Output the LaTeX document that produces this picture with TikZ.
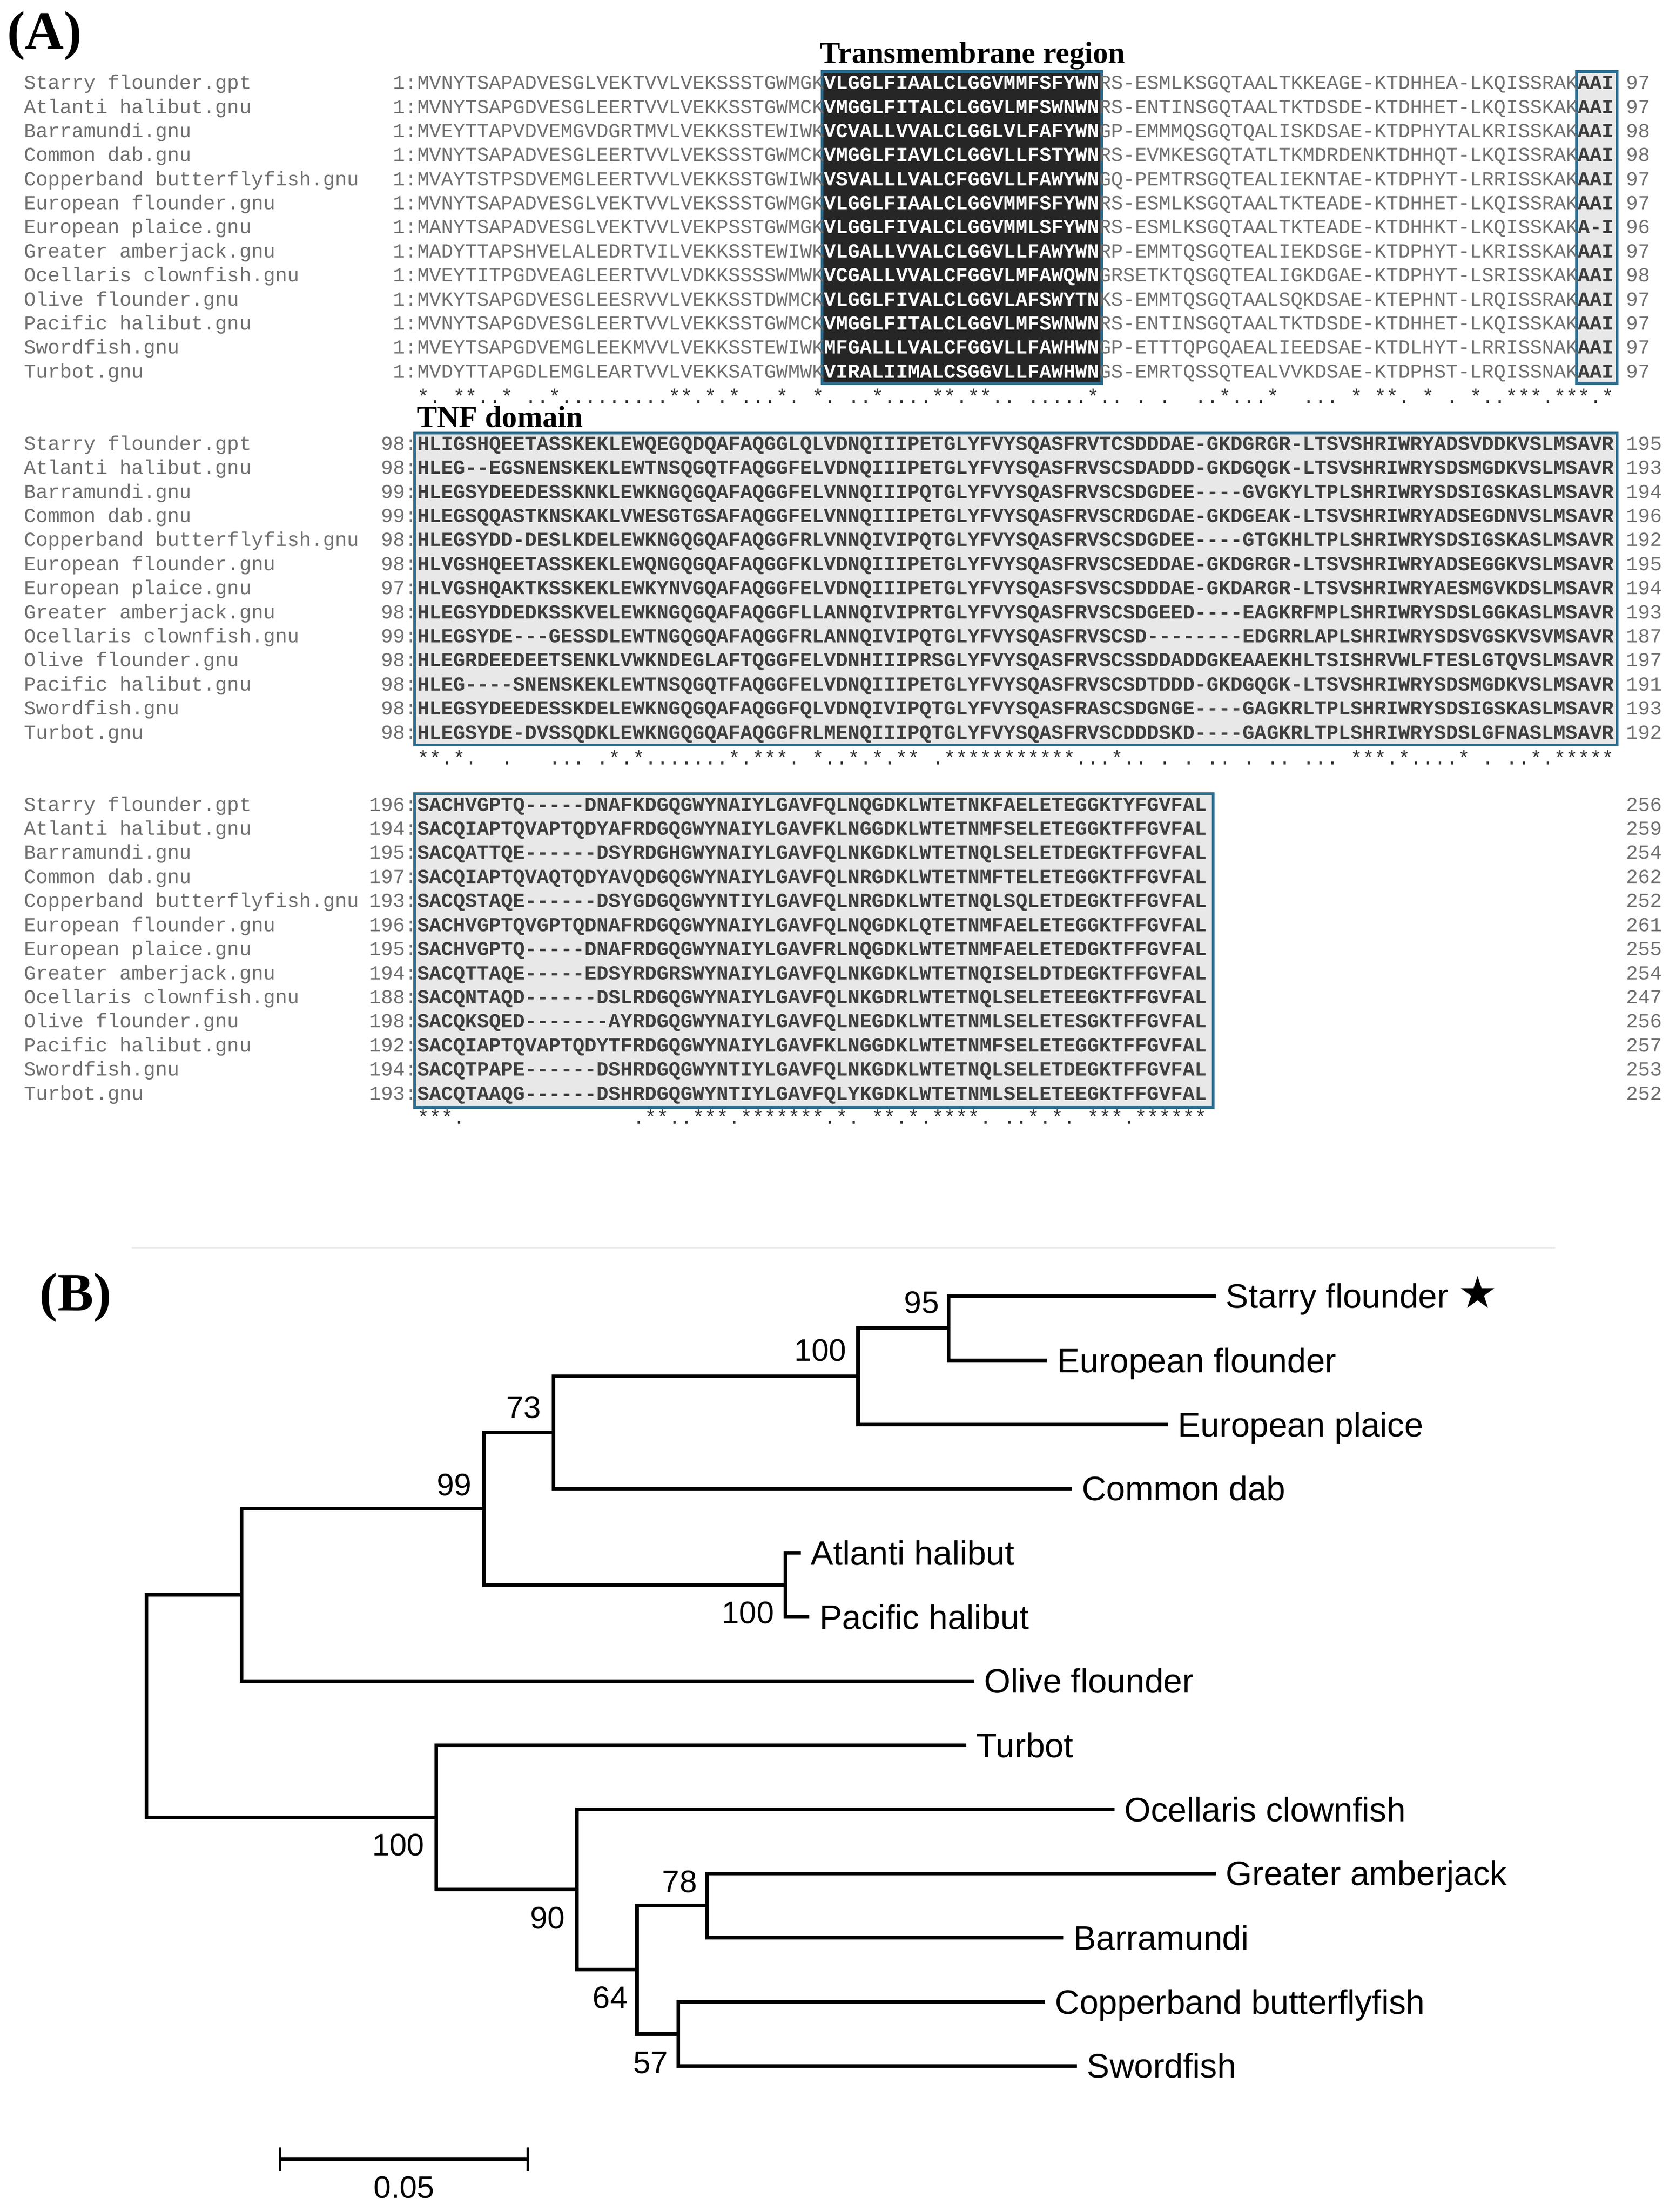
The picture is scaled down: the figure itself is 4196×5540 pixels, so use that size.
\documentclass[tikz,border=0pt]{standalone}
\usepackage{fontspec}
\setmainfont{Liberation Serif}
\newfontfamily\seqfont{Liberation Mono}[Ligatures=TeXOff]
\newfontfamily\treefont{Liberation Sans}
\newfontfamily\symfont{DejaVu Sans}
\usetikzlibrary{calc}
\definecolor{boxblue}{HTML}{2C6E91}
\definecolor{seqgray}{HTML}{707070}
\definecolor{boxfill}{HTML}{E8E8E8}
\definecolor{tmfill}{HTML}{262626}
\definecolor{boxtext}{HTML}{3E3E3E}
\newcommand\sgray[1]{{\color{seqgray}#1}}
\newcommand\swhite[1]{{\bfseries\color{white}#1}}
\newcommand\sdark[1]{{\bfseries\color{boxtext}#1}}
\newcommand\arow[6]{%
  \node[nm] (n#1) at (60,#2) {#3};
  \node[ln] (l#1) at (1045,#2) {#4};
  \node[sq] (s#1) at (1045,#2) {#5};
  \node[rn] (r#1) at (4072,#2) {#6};
}
\tikzset{
  mono/.style={inner sep=0pt, font=\seqfont\fontsize{49.93}{60}\selectfont},
  nm/.style={mono, anchor=base west, text=seqgray},
  ln/.style={mono, anchor=base east, text=seqgray},
  rn/.style={mono, anchor=base west, text=seqgray},
  sq/.style={mono, anchor=base west},
  cons/.style={mono, anchor=base west, text=black!80},
  domlab/.style={inner sep=0pt, anchor=base west, font=\bfseries\fontsize{76}{80}\selectfont},
  panel/.style={inner sep=0pt, anchor=base west, font=\bfseries\fontsize{135}{140}\selectfont},
  tmbox/.style={fill=tmfill, draw=boxblue, line width=7pt},
  lgbox/.style={fill=boxfill, draw=boxblue, line width=7pt},
  br/.style={line width=9pt, draw=black},
  lf/.style={inner sep=0pt, anchor=base west, xshift=25pt, yshift=-30pt, font=\treefont\fontsize{85}{90}\selectfont},
  bs/.style={inner sep=0pt, font=\treefont\fontsize{78}{80}\selectfont},
}
\begin{document}
\begin{tikzpicture}[x=1pt,y=-1pt]
\fill[white] (0,0) rectangle (4196,5540);
\useasboundingbox (0,0) rectangle (4196,5540);

% ---------------- panel A ----------------
\node[panel] (pA) at (18,122) {(A)};

% block 1
\draw[tmbox] (2059,179) rectangle (2759,960);
\draw[lgbox] (3948,179) rectangle (4050,960);
\node[domlab] (tmlab) at (2054,158) {Transmembrane region};

\arow{a1}{223.5}{Starry flounder.gpt}{1:}{\sgray{MVNYTSAPADVESGLVEKTVVLVEKSSSTGWMGK}\swhite{VLGGLFIAALCLGGVMMFSFYWN}\sgray{RS-ESMLKSGQTAALTKKEAGE-KTDHHEA-LKQISSRAK}\sdark{AAI}}{97}
\arow{a2}{283.75}{Atlanti halibut.gnu}{1:}{\sgray{MVNYTSAPGDVESGLEERTVVLVEKKSSTGWMCK}\swhite{VMGGLFITALCLGGVLMFSWNWN}\sgray{RS-ENTINSGQTAALTKTDSDE-KTDHHET-LKQISSKAK}\sdark{AAI}}{97}
\arow{a3}{344}{Barramundi.gnu}{1:}{\sgray{MVEYTTAPVDVEMGVDGRTMVLVEKKSSTEWIWK}\swhite{VCVALLVVALCLGGLVLFAFYWN}\sgray{GP-EMMMQSGQTQALISKDSAE-KTDPHYTALKRISSKAK}\sdark{AAI}}{98}
\arow{a4}{404.25}{Common dab.gnu}{1:}{\sgray{MVNYTSAPADVESGLEERTVVLVEKSSSTGWMCK}\swhite{VMGGLFIAVLCLGGVLLFSTYWN}\sgray{RS-EVMKESGQTATLTKMDRDENKTDHHQT-LKQISSRAK}\sdark{AAI}}{98}
\arow{a5}{464.5}{Copperband butterflyfish.gnu}{1:}{\sgray{MVAYTSTPSDVEMGLEERTVVLVEKKSSTGWIWK}\swhite{VSVALLLVALCFGGVLLFAWYWN}\sgray{GQ-PEMTRSGQTEALIEKNTAE-KTDPHYT-LRRISSKAK}\sdark{AAI}}{97}
\arow{a6}{524.75}{European flounder.gnu}{1:}{\sgray{MVNYTSAPADVESGLVEKTVVLVEKSSSTGWMGK}\swhite{VLGGLFIAALCLGGVMMFSFYWN}\sgray{RS-ESMLKSGQTAALTKTEADE-KTDHHET-LKQISSRAK}\sdark{AAI}}{97}
\arow{a7}{585}{European plaice.gnu}{1:}{\sgray{MANYTSAPADVESGLVEKTVVLVEKPSSTGWMGK}\swhite{VLGGLFIVALCLGGVMMLSFYWN}\sgray{RS-ESMLKSGQTAALTKTEADE-KTDHHKT-LKQISSKAK}\sdark{A-I}}{96}
\arow{a8}{645.25}{Greater amberjack.gnu}{1:}{\sgray{MADYTTAPSHVELALEDRTVILVEKKSSTEWIWK}\swhite{VLGALLVVALCLGGVLLFAWYWN}\sgray{RP-EMMTQSGQTEALIEKDSGE-KTDPHYT-LKRISSKAK}\sdark{AAI}}{97}
\arow{a9}{705.5}{Ocellaris clownfish.gnu}{1:}{\sgray{MVEYTITPGDVEAGLEERTVVLVDKKSSSSWMWK}\swhite{VCGALLVVALCFGGVLMFAWQWN}\sgray{GRSETKTQSGQTEALIGKDGAE-KTDPHYT-LSRISSKAK}\sdark{AAI}}{98}
\arow{a10}{765.75}{Olive flounder.gnu}{1:}{\sgray{MVKYTSAPGDVESGLEESRVVLVEKKSSTDWMCK}\swhite{VLGGLFIVALCLGGVLAFSWYTN}\sgray{KS-EMMTQSGQTAALSQKDSAE-KTEPHNT-LRQISSRAK}\sdark{AAI}}{97}
\arow{a11}{826}{Pacific halibut.gnu}{1:}{\sgray{MVNYTSAPGDVESGLEERTVVLVEKKSSTGWMCK}\swhite{VMGGLFITALCLGGVLMFSWNWN}\sgray{RS-ENTINSGQTAALTKTDSDE-KTDHHET-LKQISSKAK}\sdark{AAI}}{97}
\arow{a12}{886.25}{Swordfish.gnu}{1:}{\sgray{MVEYTSAPGDVEMGLEEKMVVLVEKKSSTEWIWK}\swhite{MFGALLLVALCFGGVLLFAWHWN}\sgray{GP-ETTTQPGQAEALIEEDSAE-KTDLHYT-LRRISSNAK}\sdark{AAI}}{97}
\arow{a13}{946.5}{Turbot.gnu}{1:}{\sgray{MVDYTTAPGDLEMGLEARTVVLVEKKSATGWMWK}\swhite{VIRALIIMALCSGGVLLFAWHWN}\sgray{GS-EMRTQSSQTEALVVKDSAE-KTDPHST-LRQISSNAK}\sdark{AAI}}{97}
\foreach \c in {1,4,5,8,12,22,23,25,27,31,34,39,44,45,47,48,57,68,72,79,81,82,85,89,92,93,94,96,97,98,100}
  \node[cons] (csA\c) at ({1045+(\c-1)*29.96},1010) {*};
\foreach \c in {2,6,7,10,11,13,14,15,16,17,18,19,20,21,24,26,28,29,30,32,35,37,38,40,41,42,43,46,49,50,52,53,54,55,56,58,59,61,63,66,67,69,70,71,75,76,77,83,87,90,91,95,99}
  \node[cons] (cdA\c) at ({1045+(\c-1)*29.96},1010) {.};

% block 2
\draw[lgbox] (1038,1085) rectangle (4050,1866);
\node[domlab] (tnflab) at (1044,1070) {TNF domain};
\arow{b1}{1127}{Starry flounder.gpt}{98:}{\sdark{HLIGSHQEETASSKEKLEWQEGQDQAFAQGGLQLVDNQIIIPETGLYFVYSQASFRVTCSDDDAE-GKDGRGR-LTSVSHRIWRYADSVDDKVSLMSAVR}}{195}
\arow{b2}{1187.3}{Atlanti halibut.gnu}{98:}{\sdark{HLEG--EGSNENSKEKLEWTNSQGQTFAQGGFELVDNQIIIPETGLYFVYSQASFRVSCSDADDD-GKDGQGK-LTSVSHRIWRYSDSMGDKVSLMSAVR}}{193}
\arow{b3}{1247.6}{Barramundi.gnu}{99:}{\sdark{HLEGSYDEEDESSKNKLEWKNGQGQAFAQGGFELVNNQIIIPQTGLYFVYSQASFRVSCSDGDEE----GVGKYLTPLSHRIWRYSDSIGSKASLMSAVR}}{194}
\arow{b4}{1307.9}{Common dab.gnu}{99:}{\sdark{HLEGSQQASTKNSKAKLVWESGTGSAFAQGGFELVNNQIIIPETGLYFVYSQASFRVSCRDGDAE-GKDGEAK-LTSVSHRIWRYADSEGDNVSLMSAVR}}{196}
\arow{b5}{1368.2}{Copperband butterflyfish.gnu}{98:}{\sdark{HLEGSYDD-DESLKDELEWKNGQGQAFAQGGFRLVNNQIVIPQTGLYFVYSQASFRVSCSDGDEE----GTGKHLTPLSHRIWRYSDSIGSKASLMSAVR}}{192}
\arow{b6}{1428.5}{European flounder.gnu}{98:}{\sdark{HLVGSHQEETASSKEKLEWQNGQGQAFAQGGFKLVDNQIIIPETGLYFVYSQASFRVSCSEDDAE-GKDGRGR-LTSVSHRIWRYADSEGGKVSLMSAVR}}{195}
\arow{b7}{1488.8}{European plaice.gnu}{97:}{\sdark{HLVGSHQAKTKSSKEKLEWKYNVGQAFAQGGFELVDNQIIIPETGLYFVYSQASFSVSCSDDDAE-GKDARGR-LTSVSHRIWRYAESMGVKDSLMSAVR}}{194}
\arow{b8}{1549.1}{Greater amberjack.gnu}{98:}{\sdark{HLEGSYDDEDKSSKVELEWKNGQGQAFAQGGFLLANNQIVIPRTGLYFVYSQASFRVSCSDGEED----EAGKRFMPLSHRIWRYSDSLGGKASLMSAVR}}{193}
\arow{b9}{1609.4}{Ocellaris clownfish.gnu}{99:}{\sdark{HLEGSYDE---GESSDLEWTNGQGQAFAQGGFRLANNQIVIPQTGLYFVYSQASFRVSCSD--------EDGRRLAPLSHRIWRYSDSVGSKVSVMSAVR}}{187}
\arow{b10}{1669.7}{Olive flounder.gnu}{98:}{\sdark{HLEGRDEEDEETSENKLVWKNDEGLAFTQGGFELVDNHIIIPRSGLYFVYSQASFRVSCSSDDADDGKEAAEKHLTSISHRVWLFTESLGTQVSLMSAVR}}{197}
\arow{b11}{1730}{Pacific halibut.gnu}{98:}{\sdark{HLEG----SNENSKEKLEWTNSQGQTFAQGGFELVDNQIIIPETGLYFVYSQASFRVSCSDTDDD-GKDGQGK-LTSVSHRIWRYSDSMGDKVSLMSAVR}}{191}
\arow{b12}{1790.3}{Swordfish.gnu}{98:}{\sdark{HLEGSYDEEDESSKDELEWKNGQGQAFAQGGFQLVDNQIVIPQTGLYFVYSQASFRASCSDGNGE----GAGKRLTPLSHRIWRYSDSIGSKASLMSAVR}}{193}
\arow{b13}{1850.6}{Turbot.gnu}{98:}{\sdark{HLEGSYDE-DVSSQDKLEWKNGQGQAFAQGGFRLMENQIIIPQTGLYFVYSQASFRVSCDDDSKD----GAGKRLTPLSHRIWRYSDSLGFNASLMSAVR}}{192}
\foreach \c in {1,2,4,17,19,27,29,30,31,34,37,39,41,42,45,46,47,48,49,50,51,52,53,54,55,59,79,80,81,83,88,94,96,97,98,99,100}
  \node[cons] (csB\c) at ({1045+(\c-1)*29.96},1915) {*};
\foreach \c in {3,5,8,12,13,14,16,18,20,21,22,23,24,25,26,28,32,35,36,38,40,44,56,57,58,60,61,63,65,67,68,70,72,73,75,76,77,82,84,85,86,87,90,92,93,95}
  \node[cons] (cdB\c) at ({1045+(\c-1)*29.96},1915) {.};

% block 3
\draw[lgbox] (1038,1988) rectangle (3038,2774);
\arow{c1}{2031}{Starry flounder.gpt}{196:}{\sdark{SACHVGPTQ-----DNAFKDGQGWYNAIYLGAVFQLNQGDKLWTETNKFAELETEGGKTYFGVFAL}}{256}
\arow{c2}{2091.3}{Atlanti halibut.gnu}{194:}{\sdark{SACQIAPTQVAPTQDYAFRDGQGWYNAIYLGAVFKLNGGDKLWTETNMFSELETEGGKTFFGVFAL}}{259}
\arow{c3}{2151.6}{Barramundi.gnu}{195:}{\sdark{SACQATTQE------DSYRDGHGWYNAIYLGAVFQLNKGDKLWTETNQLSELETDEGKTFFGVFAL}}{254}
\arow{c4}{2211.9}{Common dab.gnu}{197:}{\sdark{SACQIAPTQVAQTQDYAVQDGQGWYNAIYLGAVFQLNRGDKLWTETNMFTELETEGGKTFFGVFAL}}{262}
\arow{c5}{2272.2}{Copperband butterflyfish.gnu}{193:}{\sdark{SACQSTAQE------DSYGDGQGWYNTIYLGAVFQLNRGDKLWTETNQLSQLETDEGKTFFGVFAL}}{252}
\arow{c6}{2332.5}{European flounder.gnu}{196:}{\sdark{SACHVGPTQVGPTQDNAFRDGQGWYNAIYLGAVFQLNQGDKLQTETNMFAELETEGGKTFFGVFAL}}{261}
\arow{c7}{2392.8}{European plaice.gnu}{195:}{\sdark{SACHVGPTQ-----DNAFRDGQGWYNAIYLGAVFRLNQGDKLWTETNMFAELETEDGKTFFGVFAL}}{255}
\arow{c8}{2453.1}{Greater amberjack.gnu}{194:}{\sdark{SACQTTAQE-----EDSYRDGRSWYNAIYLGAVFQLNKGDKLWTETNQISELDTDEGKTFFGVFAL}}{254}
\arow{c9}{2513.4}{Ocellaris clownfish.gnu}{188:}{\sdark{SACQNTAQD------DSLRDGQGWYNAIYLGAVFQLNKGDRLWTETNQLSELETEEGKTFFGVFAL}}{247}
\arow{c10}{2573.7}{Olive flounder.gnu}{198:}{\sdark{SACQKSQED-------AYRDGQGWYNAIYLGAVFQLNEGDKLWTETNMLSELETESGKTFFGVFAL}}{256}
\arow{c11}{2634}{Pacific halibut.gnu}{192:}{\sdark{SACQIAPTQVAPTQDYTFRDGQGWYNAIYLGAVFKLNGGDKLWTETNMFSELETEGGKTFFGVFAL}}{257}
\arow{c12}{2694.3}{Swordfish.gnu}{194:}{\sdark{SACQTPAPE------DSHRDGQGWYNTIYLGAVFQLNKGDKLWTETNQLSELETDEGKTFFGVFAL}}{253}
\arow{c13}{2754.6}{Turbot.gnu}{193:}{\sdark{SACQTAAQG------DSHRDGQGWYNTIYLGAVFQLYKGDKLWTETNMLSELETEEGKTFFGVFAL}}{252}
\foreach \c in {1,2,3,20,21,24,25,26,28,29,30,31,32,33,34,36,39,40,42,44,45,46,47,52,54,57,58,59,61,62,63,64,65,66}
  \node[cons] (csC\c) at ({1045+(\c-1)*29.96},2815) {*};
\foreach \c in {4,19,22,23,27,35,37,41,43,48,50,51,53,55,60}
  \node[cons] (cdC\c) at ({1045+(\c-1)*29.96},2815) {.};

% separator
\draw[black!8, line width=3pt] (330,3125) -- (3895,3125);

% ---------------- panel B ----------------
\node[panel] (pB) at (99,3282) {(B)};

\coordinate (tSF) at (3045,3246);
\coordinate (tEF) at (2622,3407);
\coordinate (tEP) at (2925,3568);
\coordinate (tCD) at (2684,3728);
\coordinate (tAH) at (2005,3889);
\coordinate (tPH) at (2027,4050);
\coordinate (tOF) at (2440,4210);
\coordinate (tTU) at (2420,4371);
\coordinate (tOC) at (2791,4532);
\coordinate (tGA) at (3045,4692);
\coordinate (tBA) at (2663,4853);
\coordinate (tCB) at (2617,5014);
\coordinate (tSW) at (2697,5174);

\coordinate (n95) at (2376,3326.5);
\coordinate (nA100) at (2149,3447);
\coordinate (n73) at (1386,3587.5);
\coordinate (nHal) at (1967,3969.5);
\coordinate (n99) at (1212,3778.5);
\coordinate (nFl) at (605,3994);
\coordinate (n78) at (1771,4772.5);
\coordinate (n57) at (1699,5094);
\coordinate (n64) at (1595,4933);
\coordinate (n90) at (1445,4732.5);
\coordinate (nB100) at (1092,4551.75);
\coordinate (root) at (367,4273);

\draw[br] (n95) |- (tSF);  \draw[br] (n95) |- (tEF);
\draw[br] (nA100) |- (n95); \draw[br] (nA100) |- (tEP);
\draw[br] (n73) |- (nA100); \draw[br] (n73) |- (tCD);
\draw[br] (nHal) |- (tAH); \draw[br] (nHal) |- (tPH);
\draw[br] (n99) |- (n73); \draw[br] (n99) |- (nHal);
\draw[br] (nFl) |- (n99); \draw[br] (nFl) |- (tOF);
\draw[br] (n78) |- (tGA); \draw[br] (n78) |- (tBA);
\draw[br] (n57) |- (tCB); \draw[br] (n57) |- (tSW);
\draw[br] (n64) |- (n78); \draw[br] (n64) |- (n57);
\draw[br] (n90) |- (tOC); \draw[br] (n90) |- (n64);
\draw[br] (nB100) |- (tTU); \draw[br] (nB100) |- (n90);
\draw[br] (root) |- (nFl); \draw[br] (root) |- (nB100);

\node[lf] (lSF) at (tSF) {Starry flounder {\symfont\fontsize{110}{110}\selectfont ★}};
\node[lf] (lEF) at (tEF) {European flounder};
\node[lf] (lEP) at (tEP) {European plaice};
\node[lf] (lCD) at (tCD) {Common dab};
\node[lf] (lAH) at (tAH) {Atlanti halibut};
\node[lf] (lPH) at (tPH) {Pacific halibut};
\node[lf] (lOF) at (tOF) {Olive flounder};
\node[lf] (lTU) at (tTU) {Turbot};
\node[lf] (lOC) at (tOC) {Ocellaris clownfish};
\node[lf] (lGA) at (tGA) {Greater amberjack};
\node[lf] (lBA) at (tBA) {Barramundi};
\node[lf] (lCB) at (tCB) {Copperband butterflyfish};
\node[lf] (lSW) at (tSW) {Swordfish};

\node[bs] (b95) at (2308,3262) {95};
\node[bs] (bA100) at (2054,3382) {100};
\node[bs] (b73) at (1311,3525) {73};
\node[bs] (b99) at (1137,3719) {99};
\node[bs] (bHal) at (1873,4039) {100};
\node[bs] (bB100) at (997,4621) {100};
\node[bs] (b90) at (1371,4803) {90};
\node[bs] (b78) at (1702,4713) {78};
\node[bs] (b64) at (1528,5003) {64};
\node[bs] (b57) at (1629,5166) {57};

% scale bar
\coordinate (sbL) at (701,5408);
\coordinate (sbR) at (1322,5408);
\draw[line width=8pt] (sbL) -- (sbR);
\draw[line width=6pt] ($(sbL)+(0,-30)$) -- ($(sbL)+(0,30)$);
\draw[line width=6pt] ($(sbR)+(0,-30)$) -- ($(sbR)+(0,30)$);
\node[bs] (sbl) at (1012,5478) {0.05};
\end{tikzpicture}
\end{document}
